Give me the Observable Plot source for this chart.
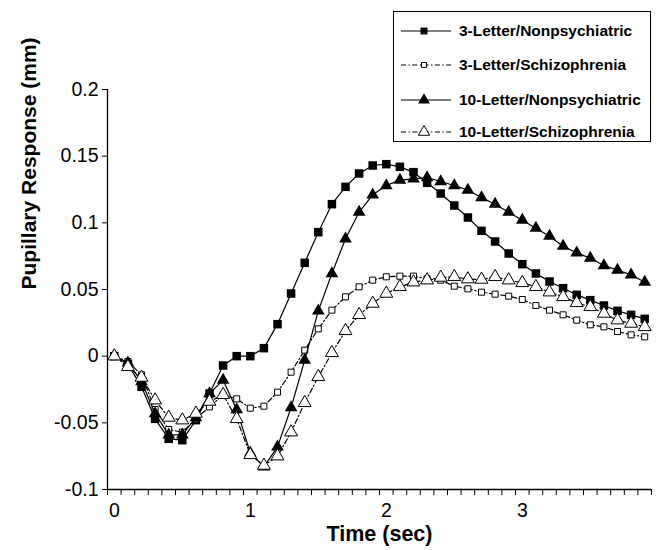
<!DOCTYPE html>
<html>
<head>
<meta charset="utf-8">
<script src="https://cdn.jsdelivr.net/npm/d3@7"></script>
<script src="https://cdn.jsdelivr.net/npm/@observablehq/plot@0.6"></script>
<style>
  body { margin: 0; background: white; }
  #wrap { position: relative; width: 663px; height: 550px; font-family: "Liberation Sans", Arial, sans-serif; }
  #legend { position: absolute; left: 393px; top: 11px; width: 258px; height: 131px; border: 1px solid #000; background: white; box-sizing: border-box; }
  .row { position: absolute; left: 0; height: 20px; display: flex; align-items: center; }
  .row svg { display: block; }
  .row span { font-weight: bold; font-size: 15.5px; margin-left: 4px; white-space: nowrap; }
</style>
</head>
<body>
<div id="wrap"></div>
<script>
// ---- data ----
const time = [0,0.1,0.2,0.3,0.4,0.5,0.6,0.7,0.8,0.9,1.0,1.1,1.2,1.3,1.4,1.5,1.6,1.7,1.8,1.9,
              2.0,2.1,2.2,2.3,2.4,2.5,2.6,2.7,2.8,2.9,3.0,3.1,3.2,3.3,3.4,3.5,3.6,3.7,3.8,3.9];
const letter3Nonpsych = [0,-0.006,-0.023,-0.047,-0.062,-0.063,-0.048,-0.028,-0.007,0,
  0,0.006,0.024,0.047,0.070,0.093,0.114,0.127,0.137,0.143,
  0.144,0.142,0.138,0.130,0.122,0.113,0.104,0.094,0.086,0.077,
  0.069,0.062,0.056,0.051,0.046,0.042,0.038,0.034,0.031,0.028];
const letter3Schizo = [0,-0.004,-0.014,-0.040,-0.055,-0.057,-0.047,-0.038,-0.029,-0.032,
  -0.039,-0.0375,-0.027,-0.012,0.0045,0.0205,0.0345,0.0445,0.052,0.057,
  0.0595,0.060,0.060,0.058,0.057,0.0525,0.0505,0.048,0.0465,0.045,
  0.0425,0.038,0.0345,0.031,0.027,0.0235,0.022,0.0185,0.016,0.0145];
const letter10Nonpsych = [0,-0.005,-0.019,-0.043,-0.059,-0.059,-0.046,-0.028,-0.018,-0.040,
  -0.0725,-0.083,-0.068,-0.0385,-0.003,0.034,0.062,0.088,0.108,0.121,
  0.128,0.132,0.133,0.134,0.131,0.128,0.1245,0.119,0.114,0.108,
  0.102,0.096,0.090,0.0825,0.0775,0.0735,0.068,0.0645,0.061,0.0555];
const letter10Schizo = [0,-0.008,-0.016,-0.033,-0.046,-0.048,-0.043,-0.034,-0.029,-0.047,
  -0.074,-0.082,-0.075,-0.057,-0.035,-0.0155,0.0025,0.019,0.031,0.0395,
  0.047,0.052,0.0555,0.057,0.059,0.0595,0.0578,0.0575,0.0595,0.057,
  0.055,0.052,0.048,0.0445,0.040,0.037,0.032,0.027,0.0245,0.022];
const seriesNames = ["3-Letter/Nonpsychiatric","3-Letter/Schizophrenia","10-Letter/Nonpsychiatric","10-Letter/Schizophrenia"];
const yTicks = [-0.1,-0.05,0,0.05,0.1,0.15,0.2];
const xLabels = [0,1,2,3];
const xTitle = "Time (sec)";
const yTitle = "Pupillary Response (mm)";

// ---- build ----
const rows = arr => time.map((t, i) => ({t, v: arr[i]}));
const s3N = rows(letter3Nonpsych), s3S = rows(letter3Schizo), s10N = rows(letter10Nonpsych), s10S = rows(letter10Schizo);
// category boundaries (Excel-style ticks between categories)
const xTickMarks = time.map(t => +(t - 0.05).toFixed(2)).concat([+(time[time.length-1] + 0.05).toFixed(2)]);
const xDomain = [xTickMarks[0], xTickMarks[xTickMarks.length-1]];
const dash = "5,2.5,1.3,2.5";

const chart = Plot.plot({
  width: 663, height: 550,
  marginLeft: 107, marginRight: 12, marginTop: 89, marginBottom: 61,
  style: {fontFamily: "'Liberation Sans', Arial, sans-serif", fontSize: "19px", background: "white", color: "black", overflow: "visible"},
  x: {domain: xDomain},
  y: {domain: [-0.1, 0.2]},
  marks: [
    Plot.axisY({ticks: yTicks, tickSize: 5, tickPadding: 4, tickFormat: d => String(d), label: null, fontSize: 19.5}),
    Plot.axisX({ticks: xTickMarks, tickSize: 6, tickFormat: () => "", label: null}),
    Plot.axisX({ticks: xLabels, tickSize: 0, tickPadding: 14, tickFormat: d => String(d), label: null, fontSize: 19.5}),
    Plot.ruleX([xDomain[0]], {stroke: "black", strokeWidth: 1.3}),
    Plot.ruleY([-0.1], {stroke: "black", strokeWidth: 1.3}),
    // series 1
    Plot.line(s3N, {x: "t", y: "v", stroke: "black", strokeWidth: 1.2}),
    Plot.dot(s3N, {x: "t", y: "v", symbol: "square", r: 4.8, fill: "black", stroke: "none"}),
    // series 2
    Plot.line(s3S, {x: "t", y: "v", stroke: "black", strokeWidth: 1.2, strokeDasharray: dash}),
    Plot.dot(s3S, {x: "t", y: "v", symbol: "square", r: 3.4, fill: "white", stroke: "black", strokeWidth: 1}),
    // series 3
    Plot.line(s10N, {x: "t", y: "v", stroke: "black", strokeWidth: 1.2}),
    Plot.dot(s10N, {x: "t", y: "v", symbol: "triangle", r: 4.7, fill: "black", stroke: "none"}),
    // series 4
    Plot.line(s10S, {x: "t", y: "v", stroke: "black", strokeWidth: 1.2, strokeDasharray: dash}),
    Plot.dot(s10S, {x: "t", y: "v", symbol: "triangle", r: 4.8, fill: "white", stroke: "black", strokeWidth: 1}),
    // titles
    Plot.text([xTitle], {frameAnchor: "bottom", lineAnchor: "middle", dy: 45, fontSize: 21.5, fontWeight: "bold"}),
    Plot.text([yTitle], {frameAnchor: "left", lineAnchor: "middle", dx: -78, rotate: -90, fontSize: 21, fontWeight: "bold"})
  ]
});
const wrap = document.getElementById("wrap");
wrap.appendChild(chart);

// ---- legend ----
const legend = document.createElement("div");
legend.id = "legend";
const rowY = [18.5, 53, 88, 119.7];
const legendSpec = [
  {dash: null, sym: "square", fill: "black", r: 3.9},
  {dash: dash, sym: "square", fill: "white", r: 2.8},
  {dash: null, sym: "triangle", fill: "black", r: 4.4},
  {dash: dash, sym: "triangle", fill: "white", r: 4.2}
];
const symMap = {square: d3.symbolSquare, triangle: d3.symbolTriangle};
seriesNames.forEach((name, i) => {
  const s = legendSpec[i];
  const row = document.createElement("div");
  row.className = "row";
  row.style.top = (rowY[i] - 10) + "px";
  const ns = "http://www.w3.org/2000/svg";
  const svg = document.createElementNS(ns, "svg");
  svg.setAttribute("width", 61); svg.setAttribute("height", 20);
  const line = document.createElementNS(ns, "line");
  line.setAttribute("x1", 7); line.setAttribute("x2", 57); line.setAttribute("y1", 10); line.setAttribute("y2", 10);
  line.setAttribute("stroke", "black"); line.setAttribute("stroke-width", 1.2);
  if (s.dash) line.setAttribute("stroke-dasharray", s.dash);
  svg.appendChild(line);
  const p = document.createElementNS(ns, "path");
  p.setAttribute("d", d3.symbol(symMap[s.sym], s.r * s.r * Math.PI)());
  p.setAttribute("transform", "translate(30,10)");
  p.setAttribute("fill", s.fill);
  p.setAttribute("stroke", s.fill === "white" ? "black" : "none");
  svg.appendChild(p);
  row.appendChild(svg);
  const span = document.createElement("span");
  span.textContent = name;
  row.appendChild(span);
  legend.appendChild(row);
});
wrap.appendChild(legend);
</script>
</body>
</html>
